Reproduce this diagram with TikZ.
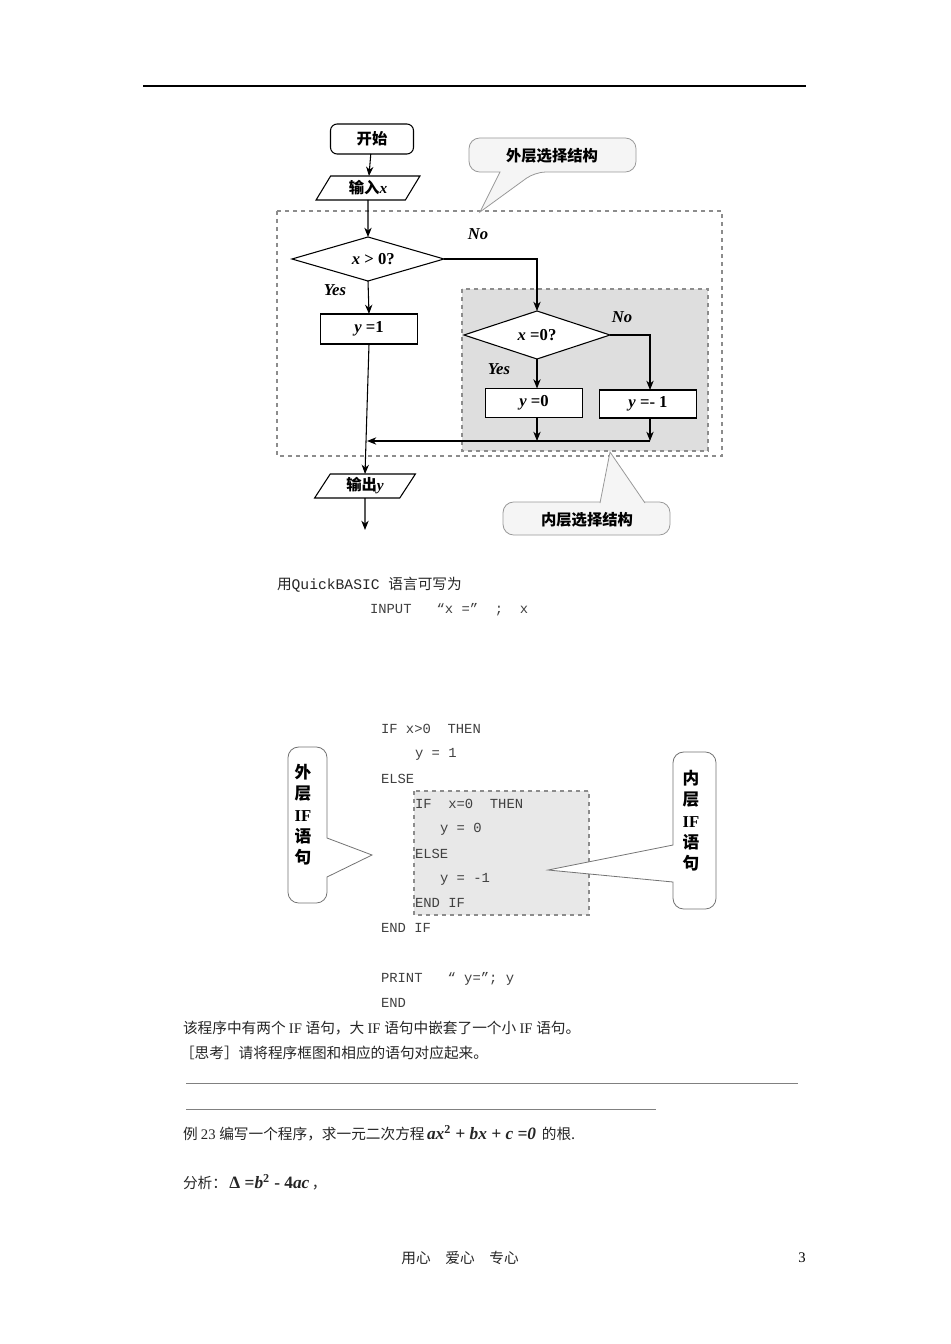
\documentclass[tikz,border=0pt]{standalone}
\usepackage{fontspec}
\setmainfont{Liberation Serif}
\newfontfamily\cjk{Noto Sans CJK SC}
\newfontfamily\code{Liberation Mono}
\usetikzlibrary{shapes.geometric,arrows.meta}
\newcommand{\vi}[1]{{\rmfamily\itshape #1}}
\begin{document}
\begin{tikzpicture}[x=0.75pt,y=-0.75pt,
  every node/.style={inner sep=0pt,outer sep=0pt},
  ln/.style={line width=0.8pt},
  arr/.style={ln,-{Stealth[length=7pt,width=5.5pt]}},
  lbl/.style={font=\bfseries\fontsize{12.5}{12}\selectfont},
  cj/.style={font=\cjk\fontsize{11}{13}\selectfont},
  cjb/.style={font=\cjk\bfseries\fontsize{11.5}{13}\selectfont},
  cd/.style={font=\code\fontsize{10.4}{12}\selectfont,anchor=west,text=black!75},
  txt/.style={font=\cjk\fontsize{11}{13}\selectfont,anchor=west,text=black!85},
  call/.style={draw=black!40,fill=black!4,line width=0.6pt}]
\useasboundingbox (0,0) rectangle (950,1344);
\fill[white] (0,0) rectangle (950,1344);
\draw[line width=0.8pt] (143,86) -- (806,86);
% outer dashed
\draw[dashed,draw=black!45,line width=1pt] (277,211) rectangle (722,456);
\draw[dashed,draw=black!45,fill=black!13,line width=1pt] (462,289) rectangle (708,451);
% callouts
\draw[call,rounded corners=8pt] (500,172) -- (469,172) -- (469,138) -- (636,138) -- (636,172) -- (535,172) [sharp corners]-- (480,212) -- cycle;
\node[cjb] at (552,156) {外层选择结构};
\draw[call,rounded corners=8pt] (600,502) -- (670,502) -- (670,535) -- (503,535) -- (503,502) -- (600,502);
\draw[call,fill=black!4] (600,503) -- (610,452) -- (645,503);
\node[cjb] at (587,520) {内层选择结构};
% nodes
\node[draw,ln,rounded corners=5pt,minimum width=83*0.75pt,minimum height=30*0.75pt,cjb] (start) at (372,139) {开始};
\node[draw,ln,trapezium,trapezium left angle=63,trapezium right angle=117,minimum width=104*0.75pt,minimum height=24*0.75pt,trapezium stretches=true,cjb] (in) at (368,188) {输入\vi{x}};
\node[draw,ln,diamond,aspect=3.45,minimum width=152*0.75pt,minimum height=44*0.75pt,fill=white,lbl] (d1) at (368,259) {\hspace{8pt}\vi{x} > 0?};
\node[draw,ln,minimum width=97*0.75pt,minimum height=30*0.75pt,fill=white,lbl] (b1) at (369,329) {\vi{y} =1};
\node[draw,ln,diamond,aspect=3.05,minimum width=146*0.75pt,minimum height=48*0.75pt,fill=white,lbl] (d2) at (537,335) {\vi{x} =0?};
\node[draw,ln,minimum width=97*0.75pt,minimum height=29*0.75pt,fill=white,lbl] (b2) at (534,403) {\vi{y} =0};
\node[draw,ln,minimum width=97*0.75pt,minimum height=28*0.75pt,fill=white,lbl] (b3) at (648,404) {\vi{y} =- 1};
\node[draw,ln,trapezium,trapezium left angle=63,trapezium right angle=117,minimum width=101*0.75pt,minimum height=24*0.75pt,trapezium stretches=true,cjb] (out) at (365,486) {输出\vi{y}};
\coordinate (j1) at (537,441);
\coordinate (j2) at (650,441);
\coordinate (jm) at (367,441);
\coordinate (end) at (365,530);
\node[lbl,font=\bfseries\itshape\fontsize{12.5}{12}\selectfont] at (478,234) {No};
\node[lbl,font=\bfseries\itshape\fontsize{12.5}{12}\selectfont] at (335,290) {Yes};
\node[lbl,font=\bfseries\itshape\fontsize{12.5}{12}\selectfont] at (622,317) {No};
\node[lbl,font=\bfseries\itshape\fontsize{12.5}{12}\selectfont] at (499,369) {Yes};
% connectors
\draw[arr] (start) -- (in);
\draw[arr] (in.south) -- (d1.north);
\draw[arr] (d1.south) -- (b1.north);
\draw[arr] (d1.east) -- (537,259) -- (d2.north);
\draw[arr] (d2.south) -- (d2.south|-b2.north);
\draw[arr] (d2.east) -- (650,335) -- (650,390);
\draw[arr] (b2.south-|j1) -- (j1);
\draw[arr] (b3.south-|j2) -- (j2);
\draw[arr] (j2) -- (jm);
\draw[arr] (b1.south) -- (out.north);
\draw[arr] (out.south) -- (end);
% text
\node[txt] at (277,585) {用\code QuickBASIC \cjk 语言可写为};
\node[cd] at (370,610) {INPUT~~ “x =”~ ;~ x};
\fill[black!9] (414,791) rectangle (589,915);
\node[cd] at (381,729) {IF x>0~ THEN};
\node[cd] at (415,754) {y = 1};
\node[cd] at (381,779) {ELSE};
\node[cd] at (415,804) {IF~ x=0~ THEN};
\node[cd] at (440,829) {y = 0};
\node[cd] at (415,854) {ELSE};
\node[cd] at (440,879) {y = -1};
\node[cd] at (415,903) {END IF};
\node[cd] at (381,928) {END IF};
\node[cd] at (381,979) {PRINT~~ “ y=”; y};
\node[cd] at (381,1003) {END};
\draw[dashed,draw=black!45,line width=1pt] (414,791) rectangle (589,915);
% side callouts
\draw[draw=black!55,fill=white,line width=0.6pt,rounded corners=8pt] (327,838) -- (327,747) -- (288,747) -- (288,903) -- (327,903) [sharp corners] -- (327,877) -- (372,855) -- cycle;
\node[cjb,align=center,font=\cjk\bfseries\fontsize{12.5}{16}\selectfont] at (303,815) {外\\层\\{\rmfamily\bfseries IF}\\语\\句};
\draw[draw=black!55,fill=white,line width=0.6pt,rounded corners=8pt] (673,845) -- (673,752) -- (716,752) -- (716,909) -- (673,909) [sharp corners] -- (673,882) -- (548,870) -- cycle;
\node[cjb,align=center,font=\cjk\bfseries\fontsize{12.5}{16}\selectfont] at (691,821) {内\\层\\{\rmfamily\bfseries IF}\\语\\句};
\node[txt] at (183,1028) {该程序中有两个 \rmfamily IF \cjk 语句，大 \rmfamily IF \cjk 语句中嵌套了一个小 \rmfamily IF \cjk 语句。};
\node[txt] at (180,1053) {［思考］请将程序框图和相应的语句对应起来。};
\draw[black!50,line width=0.5pt] (186,1083) -- (798,1083);
\draw[black!50,line width=0.5pt] (186,1109) -- (656,1109);
\node[txt] at (183,1133) {例 \rmfamily 23 \cjk 编写一个程序，求一元二次方程\,{\rmfamily\bfseries\itshape\fontsize{13}{13}\selectfont ax$^{\mathbf 2}$ + bx + c =0}\, 的根.};
\node[txt] at (183,1182) {分析：\,{\rmfamily\bfseries\fontsize{13}{13}\selectfont Δ =\textit{b}$^{\mathbf 2}$ - 4\textit{ac}}\,，};
\node[cj,text=black!85] at (460,1258) {用心\quad 爱心\quad 专心};
\node[font=\fontsize{11}{13}\selectfont] at (802,1258) {3};
\end{tikzpicture}
\end{document}
